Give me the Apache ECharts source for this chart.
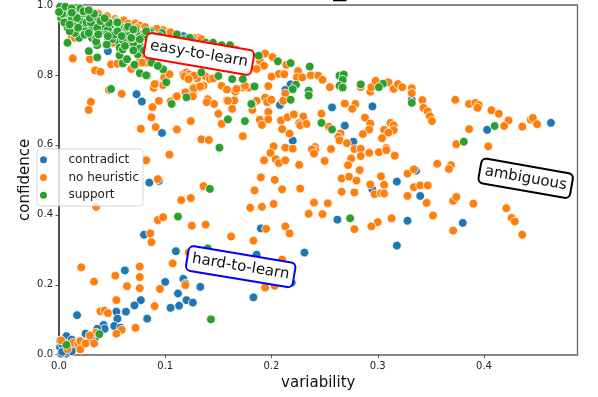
<!DOCTYPE html>
<html><head><meta charset="utf-8">
<script src="https://cdn.jsdelivr.net/npm/echarts@6/dist/echarts.min.js"></script>
<style>html,body{margin:0;padding:0;background:#fff}#c{width:598px;height:397px}</style>
</head><body><div id="c"></div>
<script>
const xTicks = [0, 0.1, 0.2, 0.3, 0.4];
const yTicks = [0, 0.2, 0.4, 0.6, 0.8, 1.0];
const seriesNames = ['contradict', 'no heuristic', 'support'];
const annotations = ['easy-to-learn', 'hard-to-learn', 'ambiguous'];

const contradict = [
[.218,.773],[.213,.757],[.208,.714],[.257,.707],[.295,.710],[.269,.655],[.220,.612],[.277,.609],[.332,.729],
[.463,.663],[.403,.643],[.336,.526],[.340,.454],[.328,.383],[.380,.377],[.318,.495],[.262,.386],[.318,.312],
[.190,.361],[.186,.286],[.231,.292],[.295,.472],[.097,.634],[.085,.492],[.094,.497],[.080,.343],[.110,.296],
[.046,.868],[.073,.745],[.078,.724],[.117,.911],[.062,.241],[.100,.208],[.117,.217],[.112,.175],[.120,.156],
[.126,.149],[.133,.194],[.113,.140],[.105,.134],[.077,.156],[.071,.141],[.063,.123],[.054,.123],[.055,.103],
[.017,.113],[.083,.103],[.042,.085],[.043,.074],[.052,.082],[.058,.077],[.036,.074],[.025,.060],[.007,.053],
[.012,.043],[.014,.017],[.001,.022],[.004,.013],[.007,.003],[.002,.003],[.009,.008],[.034,.049],[.030,.046],
[.119,.203],[.183,.164],[.219,.206],[.001,.040],[.005,.032],[.003,.030],[.008,.022],[.003,.008],[.012,.010]
];

const noHeuristic = [
[.194,.861],[.201,.851],[.189,.840],[.193,.826],[.186,.817],[.200,.795],[.207,.803],[.212,.802],[.214,.829],
[.225,.811],[.224,.793],[.229,.793],[.237,.799],[.244,.798],[.248,.786],[.255,.765],[.197,.768],[.173,.764],
[.179,.764],[.284,.765],[.293,.752],[.294,.765],[.298,.783],[.310,.779],[.315,.760],[.319,.774],[.323,.765],
[.332,.762],[.332,.748],[.342,.728],[.343,.706],[.347,.696],[.349,.682],[.351,.668],[.194,.735],[.196,.722],
[.200,.729],[.213,.747],[.211,.726],[.182,.700],[.197,.694],[.189,.672],[.191,.657],[.197,.673],[.209,.670],
[.215,.679],[.221,.687],[.230,.681],[.226,.662],[.227,.656],[.233,.660],[.210,.645],[.217,.632],[.173,.625],
[.247,.689],[.254,.652],[.269,.718],[.279,.717],[.276,.703],[.288,.678],[.293,.661],[.292,.644],[.286,.631],
[.265,.633],[.263,.623],[.264,.613],[.271,.605],[.312,.663],[.315,.656],[.315,.642],[.306,.643],[.310,.635],
[.304,.619],[.202,.596],[.213,.592],[.199,.577],[.220,.589],[.241,.594],[.241,.585],[.238,.587],[.240,.575],
[.256,.588],[.278,.588],[.284,.589],[.284,.568],[.292,.577],[.301,.579],[.308,.591],[.308,.585],[.316,.569],
[.275,.561],[.193,.556],[.204,.559],[.207,.548],[.213,.556],[.226,.543],[.250,.554],[.272,.542],[.283,.528],
[.373,.729],[.386,.717],[.392,.720],[.395,.714],[.394,.706],[.407,.699],[.414,.689],[.423,.670],[.419,.654],
[.436,.652],[.444,.672],[.446,.677],[.450,.659],[.386,.645],[.374,.602],[.404,.596],[.356,.546],[.369,.542],
[.367,.531],[.328,.518],[.334,.530],[.334,.479],[.340,.484],[.347,.484],[.328,.454],[.346,.434],[.371,.440],
[.374,.451],[.390,.432],[.352,.398],[.421,.419],[.426,.391],[.429,.381],[.371,.355],[.436,.343],
[.190,.507],[.203,.500],[.184,.470],[.210,.473],[.227,.475],[.266,.504],[.273,.509],[.280,.498],[.266,.466],
[.278,.464],[.293,.487],[.303,.510],[.306,.486],[.297,.459],[.303,.462],[.306,.461],[.240,.435],[.253,.433],
[.180,.420],[.191,.423],[.202,.431],[.235,.403],[.248,.402],[.313,.390],[.300,.379],[.294,.367],[.278,.359],
[.195,.360],[.213,.367],[.217,.347],[.162,.338],[.183,.326],[.210,.272],
[.134,.616],[.141,.614],[.104,.572],[.082,.556],[.093,.502],[.136,.482],[.115,.442],[.124,.448],[.035,.423],
[.093,.385],[.098,.393],[.125,.369],[.138,.372],[.086,.347],[.087,.322],
[.013,.847],[.029,.845],[.034,.813],[.039,.809],[.049,.830],[.055,.832],[.061,.833],[.068,.817],[.059,.746],
[.047,.757],[.030,.723],[.028,.700],[.094,.726],[.088,.708],[.087,.679],[.091,.651],[.077,.646],[.111,.644],
[.124,.668],[.110,.737],[.105,.724],[.119,.750],[.126,.762],[.126,.746],[.133,.764],[.136,.769],[.089,.763],
[.091,.774],[.098,.771],[.101,.798],[.099,.793],[.104,.802],[.117,.802],[.120,.807],[.122,.802],[.118,.796],
[.123,.793],[.130,.790],[.138,.796],[.142,.788],[.145,.790],[.153,.769],[.158,.758],[.166,.752],[.158,.727],
[.165,.727],[.163,.703],[.150,.689],[.153,.660],[.140,.731],[.146,.717],
[.020,.985],[.029,.979],[.037,.975],[.045,.968],[.053,.960],[.061,.956],[.065,.947],[.072,.947],[.076,.941],
[.081,.937],[.090,.930],[.098,.928],[.103,.920],[.123,.903],[.131,.906],[.138,.894],[.145,.887],[.153,.878],
[.166,.873],[.012,.911],[.015,.906],[.046,.897],[.051,.892],[.064,.902],[.070,.906],[.073,.935],[.076,.916],
[.072,.883],[.067,.887],[.044,.887],[.078,.859],[.082,.835],[.076,.840],[.090,.774],[.127,.798],[.122,.788],
[.127,.762],[.133,.767],[.111,.739],[.126,.739],[.139,.722],[.159,.726],[.186,.726],[.175,.769],[.167,.760],
[.174,.859],[.155,.881],[.127,.906],[.134,.902],[.092,.932],[.105,.922],[.072,.826],[.078,.835],
[.021,.250],[.053,.226],[.076,.252],[.076,.222],[.107,.261],[.033,.209],[.064,.196],[.076,.190],[.095,.188],
[.119,.199],[.054,.156],[.090,.139],[.039,.124],[.043,.126],[.046,.119],[.072,.077],[.059,.071],[.054,.060],
[.035,.063],[.029,.055],[.002,.041],[.008,.016],[.013,.034],[.018,.032],[.020,.039],[.020,.015],[.025,.032],
[.033,.032],[.194,.192],[.203,.197],[.122,.292]
];

const support = [
[.188,.855],[.206,.839],[.218,.834],[.236,.824],[.264,.798],[.268,.801],[.267,.786],[.264,.769],[.267,.764],
[.284,.773],[.305,.775],[.301,.765],[.184,.767],[.223,.772],[.220,.759],[.235,.755],[.235,.741],[.218,.729],
[.182,.716],[.332,.720],[.175,.668],[.247,.663],[.257,.644],[.410,.654],[.381,.609],[.274,.390],[.151,.592],
[.142,.474],[.112,.395],[.140,.304],[.007,.028],[.038,.059],[.143,.101],
[.087,.925],[.097,.920],[.111,.916],[.119,.902],[.125,.903],[.138,.892],[.145,.892],[.153,.885],[.161,.885],
[.181,.717],[.120,.736],[.106,.717],[.163,.788],[.173,.788],[.150,.797],[.134,.807],[.076,.805],[.083,.798],
[.094,.824],[.098,.816],[.087,.835],[.008,.892],[.028,.868],[.036,.885],[.036,.850],[.057,.856],[.060,.833],
[.064,.845],[.071,.829],[.074,.859],[.076,.883],[.082,.799],[.093,.826],[.101,.779],[.049,.760],[.159,.673],
[.003,.989],[.009,.985],[.002,.963],[.008,.968],[.010,.966],[.016,.982],[.022,.977],[.028,.965],[.031,.977],
[.008,.935],[.010,.951],[.017,.932],[.015,.949],[.022,.939],[.019,.906],[.031,.935],[.036,.951],[.039,.963],
[.045,.949],[.050,.925],[.054,.954],[.057,.930],[.062,.935],[.037,.925],[.031,.906],[.035,.906],[.040,.920],
[.043,.925],[.046,.906],[.056,.911],[.056,.897],[.050,.902],[.057,.878],[.060,.873],[.065,.892],[.067,.911],
[.073,.916],[.072,.930],[.075,.878],[.045,.887],[.075,.900],[.070,.892],
[.005,.975],[.013,.970],[.020,.955],[.026,.950],[.033,.965],[.025,.925],[.041,.940],[.048,.940],[.052,.915],
[.063,.915],[.069,.905],[.020,.990],[.012,.960],[.005,.950],[.030,.950],[.036,.935],[.046,.930],[.055,.925],
[.065,.925],[.080,.910],[.085,.890],[.090,.870],[.080,.870],[.070,.870],[.060,.900],[.045,.915],[.035,.895],
[.024,.915],[.015,.920],[.010,.925],[.003,.975],[.001,.995],[.006,.995],[.000,.980],[.012,.990],[.100,.885],[.092,.905],
[.054,.951],[.064,.935],[.059,.911],[.047,.949],[.039,.954],[.029,.963],[.023,.977],[.017,.963],[.010,.944],
[.018,.935],[.028,.920],[.037,.916],[.046,.911],[.062,.883],[.068,.906],[.076,.902],[.086,.921],[.089,.911],
[.095,.911],[.123,.906],[.139,.883],[.023,.982],[.033,.975],[.043,.962],[.055,.950],[.065,.938],[.012,.978],
[.082,.925],[.070,.930],[.028,.985]
];

const colors = ['#1f77b4', '#ff7f0e', '#2ca02c'];
const chart = echarts.init(document.getElementById('c'), null, {renderer: 'canvas'});
const font = '"DejaVu Sans"';
const mk = (name, data, color) => ({
  type: 'scatter', name, data, symbolSize: 8.8, clip: true,
  itemStyle: {color, borderColor: '#fff', borderWidth: 0.8, opacity: 1},
  emphasis: {disabled: true}, animation: false
});
const box = (text, x, y, deg, border, pad) => ({
  type: 'text', x, y, rotation: deg * Math.PI / 180, z: 50, silent: true,
  style: {text, fill: '#111', font: '15px ' + font, align: 'center', verticalAlign: 'middle',
    backgroundColor: '#fff', borderColor: border, borderWidth: 2, borderRadius: 4, padding: pad}
});
chart.setOption({
  animation: false,
  backgroundColor: '#fff',
  grid: {left: 59, right: 20.5, top: 1.5, bottom: 42.3, show: true, borderColor: '#666', borderWidth: 1.3, containLabel: false},
  xAxis: {
    type: 'value', min: 0, max: 0.488, splitLine: {show: false},
    name: 'variability', nameLocation: 'middle', nameGap: 21, nameMoveOverlap: false,
    nameTextStyle: {fontFamily: font, fontSize: 15, color: '#111', verticalAlign: 'top'},
    axisLine: {show: true, onZero: false, lineStyle: {color: '#888', width: 2}},
    axisTick: {show: true, length: 3.5, customValues: xTicks, lineStyle: {color: '#333', width: 0.8}},
    axisLabel: {customValues: xTicks, fontFamily: font, fontSize: 10, color: '#222', margin: 7, formatter: v => v.toFixed(1)}
  },
  yAxis: {
    type: 'value', min: 0, max: 1, splitLine: {show: false},
    name: 'confidence', nameLocation: 'middle', nameGap: 26, nameMoveOverlap: false,
    nameTextStyle: {fontFamily: font, fontSize: 15, color: '#111'},
    axisLine: {show: true, onZero: false, lineStyle: {color: '#333', width: 1.5}},
    axisTick: {show: true, length: 3.5, customValues: yTicks, lineStyle: {color: '#333', width: 0.8}},
    axisLabel: {customValues: yTicks, fontFamily: font, fontSize: 10, color: '#222', margin: 6,
      verticalAlignMaxLabel: 'middle', verticalAlignMinLabel: 'middle', formatter: v => v.toFixed(1)}
  },
  legend: {
    left: 37, top: 149, orient: 'vertical', z: 40, padding: [3.3, 4, 3.3, 1],
    data: seriesNames, icon: 'circle', itemWidth: 16, itemHeight: 9, itemGap: 2.7,
    selectedMode: false,
    backgroundColor: 'rgba(255,255,255,0.8)', borderColor: 'rgba(204,204,204,0.8)', borderWidth: 1, borderRadius: 3,
    textStyle: {fontFamily: font, fontSize: 12, color: '#222', padding: [0, 0, 0, 12], lineHeight: 15}
  },
  series: [mk(seriesNames[0], contradict, colors[0]), mk(seriesNames[1], noHeuristic, colors[1]), mk(seriesNames[2], support, colors[2])],
  graphic: [
    {type: 'rect', silent: true, z: 60, shape: {x: 333, y: 0, width: 13.5, height: 1.3}, style: {fill: '#000'}},
    box(annotations[0], 199, 54, -9.7, '#f00', [4, 4, 4, 4]),
    box(annotations[1], 240.7, 266.7, -9.4, '#00f', [4, 4, 4, 4]),
    box(annotations[2], 525.7, 178.3, -10, '#000', [4, 4, 4, 4])
  ]
});
</script></body></html>
